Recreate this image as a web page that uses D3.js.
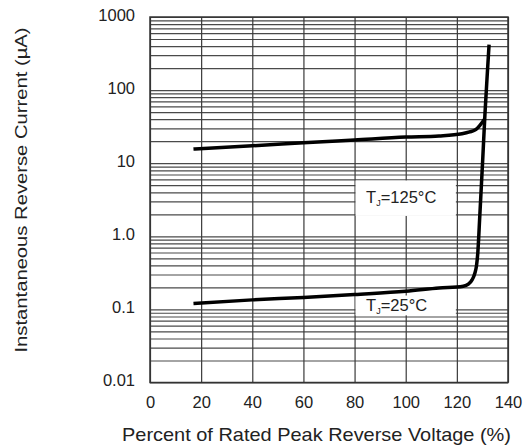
<!DOCTYPE html>
<html>
<head>
<meta charset="utf-8">
<script src="https://cdn.jsdelivr.net/npm/d3@7"></script>
<style>
  body { margin: 0; background: #fff; }
  text { font-family: 'Liberation Sans', Arial, sans-serif; fill: #222; }
</style>
</head>
<body>
<div id="chart"></div>
<script>
// values
const pctRated25 = [17, 40, 60, 80, 100, 113, 122.5, 124.5, 126, 127, 127.7, 128.2, 129, 130.1, 131, 132, 132.6]
const current25 = [0.12, 0.135, 0.146, 0.16, 0.177, 0.196, 0.208, 0.222, 0.255, 0.31, 0.4, 0.6, 2.0, 11, 48, 190, 420]

const pctRated125 = [17, 40, 60, 80, 100, 113, 122, 125, 127.5, 129, 130.8]
const current125 = [15.6, 17.3, 19, 20.8, 22.8, 23.6, 25.3, 26.8, 29, 33, 40]

const xTicks = [0, 20, 40, 60, 80, 100, 120, 140]
const yTicks = [0.01, 0.1, 1, 10, 100, 1000]
const yTickLabels = ['0.01', '0.1', '1.0', '10', '100', '1000']

const margin = { top: 17, left: 150, right: 19, bottom: 62.5 }
const width = 527 - margin.left - margin.right
const height = 445 - margin.top - margin.bottom

const svg = d3
  .select('#chart')
  .append('svg')
  .attr('width', width + margin.left + margin.right)
  .attr('height', height + margin.top + margin.bottom)
  .append('g')
  .attr('transform', 'translate(' + margin.left + ',' + margin.top + ')')

const xPositionScale = d3.scaleLinear().domain([0, 140]).range([0, width])
const yPositionScale = d3.scaleLog().domain([0.01, 1000]).range([height, 0])

// log grid: 1..9 in every decade
const minorValues = []
yTicks.slice(0, -1).forEach(d => {
  for (let k = 1; k < 10; k++) minorValues.push(+(k * d).toPrecision(3))
})
minorValues.push(1000)

svg
  .append('g')
  .attr('class', 'grid y-grid')
  .call(d3.axisLeft(yPositionScale).tickValues(minorValues).tickSize(-width).tickFormat(''))
svg.selectAll('.y-grid line').attr('stroke', '#4a4a4a').attr('stroke-width', 1.2)

svg
  .append('g')
  .attr('class', 'grid x-grid')
  .attr('transform', 'translate(0,' + height + ')')
  .call(d3.axisBottom(xPositionScale).tickValues(xTicks).tickSize(-height).tickFormat(''))
svg.selectAll('.x-grid line').attr('stroke', '#3a3a3a').attr('stroke-width', 1.2)
svg.selectAll('.grid path').remove()

// white boxes behind the temperature labels
const labelBoxes = [
  { x0: 80, x1: 120, top: 5.8, bottom: 1.9 },
  { x0: 80, x1: 120, top: 0.155, bottom: 0.083 }
]
svg
  .selectAll('.label-box')
  .data(labelBoxes)
  .enter()
  .append('rect')
  .attr('class', 'label-box')
  .attr('x', d => xPositionScale(d.x0) + 1)
  .attr('width', d => xPositionScale(d.x1) - xPositionScale(d.x0) - 2)
  .attr('y', d => yPositionScale(d.top))
  .attr('height', d => yPositionScale(d.bottom) - yPositionScale(d.top))
  .attr('fill', '#fff')

// frame
svg
  .append('rect')
  .attr('width', width)
  .attr('height', height)
  .attr('fill', 'none')
  .attr('stroke', '#333')
  .attr('stroke-width', 1.5)

const line = d3
  .line()
  .x(d => xPositionScale(d[0]))
  .y(d => yPositionScale(d[1]))
  .curve(d3.curveMonotoneX)

const series = [d3.zip(pctRated25, current25), d3.zip(pctRated125, current125)]
svg
  .selectAll('.curve')
  .data(series)
  .enter()
  .append('path')
  .attr('class', 'curve')
  .attr('d', line)
  .attr('fill', 'none')
  .attr('stroke', '#000')
  .attr('stroke-width', 3.5)

// temperature labels
const tempLabels = [
  { x: 84.5, y: 3.0, temp: '=125°C' },
  { x: 84.5, y: 0.1, temp: '=25°C' }
]
const labels = svg
  .selectAll('.temp-label')
  .data(tempLabels)
  .enter()
  .append('text')
  .attr('class', 'temp-label')
  .attr('x', d => xPositionScale(d.x))
  .attr('y', d => yPositionScale(d.y) + 1.5)
  .attr('font-size', 16.5)
labels.append('tspan').text('T')
labels.append('tspan').text('J').attr('font-size', 9).attr('dy', 3)
labels.append('tspan').text(d => d.temp).attr('dy', -3)

// axes
const xAxis = d3.axisBottom(xPositionScale).tickValues(xTicks).tickSize(0).tickPadding(13.5)
svg
  .append('g')
  .attr('class', 'axis x-axis')
  .attr('transform', 'translate(0,' + height + ')')
  .call(xAxis)

const yAxis = d3
  .axisLeft(yPositionScale)
  .tickValues(yTicks)
  .tickFormat((d, i) => yTickLabels[i])
  .tickSize(0)
  .tickPadding(15)
svg
  .append('g')
  .attr('class', 'axis y-axis')
  .call(yAxis)

svg.selectAll('.axis path').remove()
svg
  .selectAll('.axis text')
  .attr('font-size', 16.5)
  .attr('font-family', "'Liberation Sans', Arial, sans-serif")
  .attr('fill', '#222')
svg.selectAll('.y-axis text').attr('y', -2)

svg
  .append('text')
  .text('Percent of Rated Peak Reverse Voltage (%)')
  .attr('x', (122 - margin.left + 511 - margin.left) / 2)
  .attr('y', height + 58)
  .attr('text-anchor', 'middle')
  .attr('font-size', 18.5)
  .attr('textLength', 389)
  .attr('lengthAdjust', 'spacingAndGlyphs')

svg
  .append('text')
  .text('Instantaneous Reverse Current (µA)')
  .attr('transform', 'translate(' + (27 - margin.left) + ',' + (190 - margin.top) + ') rotate(-90)')
  .attr('text-anchor', 'middle')
  .attr('font-size', 17)
  .attr('textLength', 325)
  .attr('lengthAdjust', 'spacingAndGlyphs')
</script>
</body>
</html>
